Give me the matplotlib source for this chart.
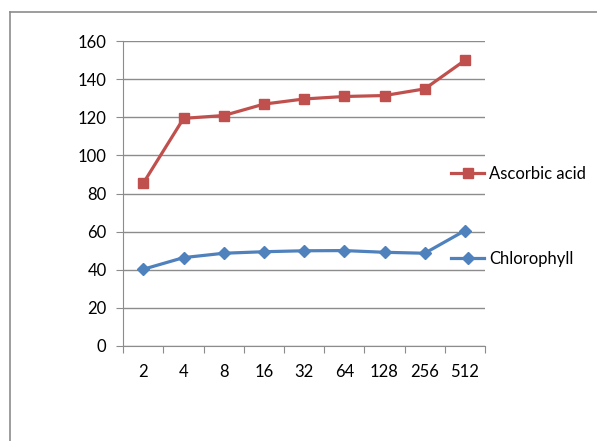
import matplotlib.pyplot as plt
from matplotlib.lines import Line2D

# dane do wykresu
kategorie = ['2', '4', '8', '16', '32', '64', '128', '256', '512']
kwas_askorbinowy = [85.5, 119.5, 121, 127, 129.7, 131, 131.5, 135, 150]
chlorofil = [40.2, 46.3, 48.6, 49.4, 49.9, 50, 49.1, 48.6, 60.5]

plt.rcParams['font.family'] = ['Lato', 'DejaVu Sans']

fig = plt.figure(figsize=(5.97, 4.41), dpi=100)
ax = fig.add_axes([0.2065, 0.2161, 0.6059, 0.6902])

# ramka wokol wykresu (tylko gora i lewa strona)
fig.add_artist(Line2D([10 / 597, 10 / 597], [0, 1 - 12 / 441], color='#8c8c8c', lw=1.2))
fig.add_artist(Line2D([10 / 597, 1], [1 - 12 / 441, 1 - 12 / 441], color='#8c8c8c', lw=1.2))

x = list(range(len(kategorie)))
ax.plot(x, kwas_askorbinowy, color='#C0504D', lw=2.3, marker='s', markersize=7.5, label='Ascorbic acid')
ax.plot(x, chlorofil, color='#4F81BD', lw=2.3, marker='D', markersize=6.5, label='Chlorophyll')

ax.set_xlim(-0.5, len(kategorie) - 0.5)
ax.set_ylim(0, 160)
ax.set_yticks(range(0, 161, 20))
ax.set_xticks([i - 0.5 for i in range(len(kategorie) + 1)], minor=False)
ax.set_xticklabels([])
ax.set_xticks(x, minor=True)
ax.set_xticklabels(kategorie, minor=True)
ax.tick_params(axis='x', which='major', length=5, color='#8c8c8c', direction='out')
ax.tick_params(axis='x', which='minor', length=0, pad=13, labelsize=12)
ax.tick_params(axis='y', length=5, color='#8c8c8c', labelsize=12, pad=7)

ax.grid(axis='y', color='#8c8c8c', lw=1)
ax.set_axisbelow(True)
for s in ['top', 'right']:
    ax.spines[s].set_visible(False)
for s in ['left', 'bottom']:
    ax.spines[s].set_color('#8c8c8c')

fig.legend(loc='upper left', bbox_to_anchor=(451 / 597, 1 - 166 / 441), frameon=False,
           fontsize=12, handlelength=2.0, handletextpad=0.3, labelspacing=4.15,
           borderpad=0, borderaxespad=0)

fig.savefig('out.png', dpi=100)
